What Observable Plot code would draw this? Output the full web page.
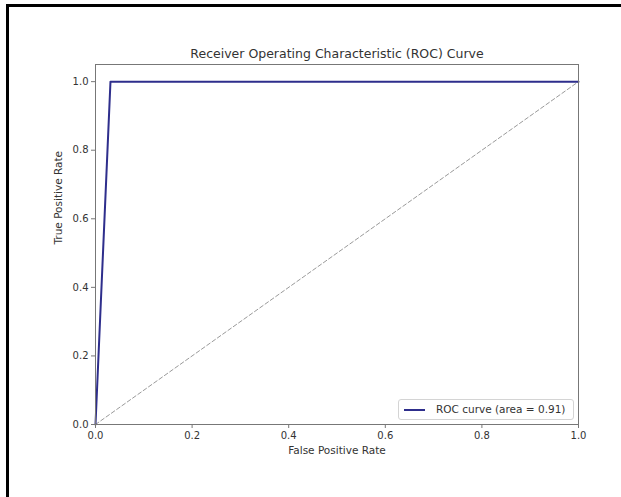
<!DOCTYPE html>
<html>
<head>
<meta charset="utf-8">
<script src="https://cdn.jsdelivr.net/npm/d3@7"></script>
<script src="https://cdn.jsdelivr.net/npm/@observablehq/plot@0.6"></script>
<style>
  html, body { margin: 0; padding: 0; background: #fff; overflow: hidden; }
  #wrap { position: relative; width: 621px; height: 497px; overflow: hidden; font-family: "DejaVu Sans", sans-serif; }
  #chart svg { display: block; }
  #btop { position: absolute; left: 6px; top: 4px; width: 615px; height: 3px; background: #000; }
  #bleft { position: absolute; left: 6px; top: 4px; width: 3px; height: 493px; background: #000; }
  #legend { position: absolute; left: 398px; top: 399px; width: 174px; height: 19px; border: 1px solid #d4d4d4; border-radius: 3px; background: rgba(255,255,255,0.8); font-size: 10.5px; color: #333; }
  #legend .sw { position: absolute; left: 5px; top: 9px; width: 21px; height: 2px; background: #2e2e8c; }
  #legend .lb { position: absolute; left: 37px; top: 3px; white-space: nowrap; line-height: 13px; }
</style>
</head>
<body>
<div id="wrap">
  <div id="chart"></div>
  <div id="legend"><div class="sw"></div><div class="lb"></div></div>
  <div id="btop"></div>
  <div id="bleft"></div>
</div>
<script>
// Data
const fpr = [0, 0.031, 1];
const tpr = [0, 1, 1];
const diagX = [0, 1];
const diagY = [0, 1];
const xTicks = [0, 0.2, 0.4, 0.6, 0.8, 1.0];
const yTicks = [0, 0.2, 0.4, 0.6, 0.8, 1.0];
const titleText = "Receiver Operating Characteristic (ROC) Curve";
const xLabel = "False Positive Rate";
const yLabel = "True Positive Rate";
const legendLabel = "ROC curve (area = 0.91)";

const roc = fpr.map((x, i) => ({x, y: tpr[i]}));
const diag = diagX.map((x, i) => ({x, y: diagY[i]}));
const fmt = d3.format(".1f");

const chart = Plot.plot({
  width: 621,
  height: 497,
  marginLeft: 95,
  marginRight: 43,
  marginTop: 64,
  marginBottom: 73,
  style: {fontFamily: "DejaVu Sans, sans-serif", fontSize: "10px", color: "#333", background: "transparent"},
  x: {domain: [0, 1], ticks: xTicks, tickFormat: fmt},
  y: {domain: [0, 1.05], ticks: yTicks, tickFormat: fmt},
  marks: [
    Plot.line(diag, {x: "x", y: "y", stroke: "#9a9a9a", strokeWidth: 1, strokeDasharray: "4,2.5"}),
    Plot.line(roc, {x: "x", y: "y", stroke: "#2e2e8c", strokeWidth: 2}),
    Plot.frame({stroke: "#777", strokeWidth: 1}),
    Plot.axisX({ticks: xTicks, tickFormat: fmt, tickSize: 4, tickPadding: 3, label: null, stroke: "#777"}),
    Plot.axisY({ticks: yTicks, tickFormat: fmt, tickSize: 4, tickPadding: 3, label: null, stroke: "#777"}),
    Plot.text([xLabel], {text: d => d, frameAnchor: "bottom", dy: 29, fontSize: 10.5, fill: "#333"}),
    Plot.text([yLabel], {text: d => d, frameAnchor: "left", dx: -37, rotate: -90, fontSize: 10.5, fill: "#333"}),
    Plot.text([titleText], {text: d => d, frameAnchor: "top", dy: -15, fontSize: 12.5, fill: "#333"})
  ]
});
document.getElementById("chart").appendChild(chart);
document.querySelector("#legend .lb").textContent = legendLabel;
</script>
</body>
</html>
